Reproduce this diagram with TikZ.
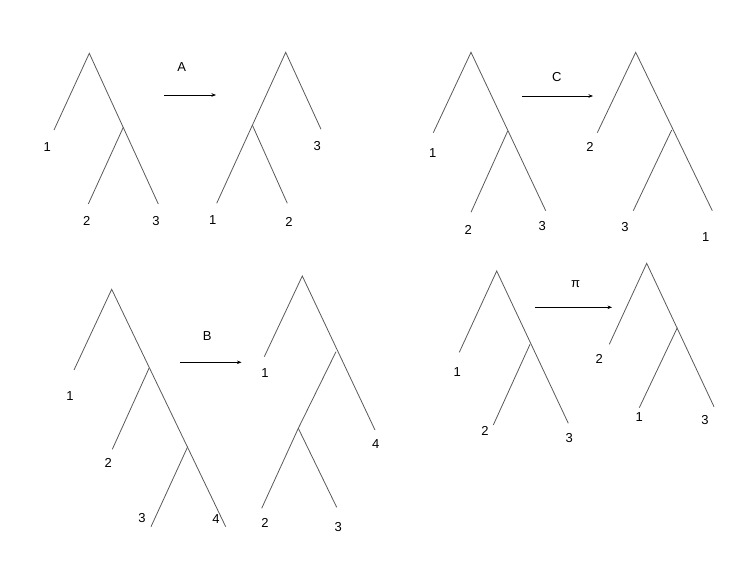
\documentclass[tikz,border=0pt]{standalone}
\usepackage{fontspec}
\setmainfont{Liberation Sans}
\usetikzlibrary{arrows.meta}
\tikzset{
  branch/.style={draw=black!65, line width=0.8pt},
  lab/.style={font=\fontsize{13}{15}\selectfont, inner sep=0pt, anchor=center},
  maparrow/.style={draw=black, line width=0.6pt, -{Stealth[length=4.5pt,width=3.5pt]}},
}
\begin{document}
\begin{tikzpicture}[x=1pt,y=-1pt]
\useasboundingbox (0,0) rectangle (736,584);
% ---------- A ----------
\coordinate (aLr) at (89.3,53.3);
\coordinate (aL1) at (54,130);
\coordinate (aLi) at (123.3,127.3);
\coordinate (aL2) at (88.3,204);
\coordinate (aL3) at (158.3,204);
\draw[branch] (aL1) -- (aLr) -- (aL3);
\draw[branch] (aL2) -- (aLi);
\node[lab] (aLt1) at (47.3,146.7) {1};
\node[lab] (aLt2) at (86.7,221) {2};
\node[lab] (aLt3) at (156,221) {3};
\coordinate (aAs) at (164,95);
\coordinate (aAe) at (216,95);
\draw[maparrow] (aAs) -- (aAe);
\node[lab] (aLab) at (181.7,66.7) {A};
\coordinate (aRr) at (285.7,52.3);
\coordinate (aR3) at (321,129.3);
\coordinate (aRi) at (252.3,125);
\coordinate (aR1) at (216.7,203.3);
\coordinate (aR2) at (287.3,203.3);
\draw[branch] (aR1) -- (aRr) -- (aR3);
\draw[branch] (aRi) -- (aR2);
\node[lab] (aRt3) at (317.3,146) {3};
\node[lab] (aRt1) at (212.7,220) {1};
\node[lab] (aRt2) at (289,221.7) {2};
% ---------- C ----------
\coordinate (cLr) at (471,52.3);
\coordinate (cL1) at (433.3,132.7);
\coordinate (cLi) at (507.7,131);
\coordinate (cL2) at (471,212.3);
\coordinate (cL3) at (545.7,210.7);
\draw[branch] (cL1) -- (cLr) -- (cL3);
\draw[branch] (cL2) -- (cLi);
\node[lab] (cLt1) at (432.7,153.3) {1};
\node[lab] (cLt2) at (468.3,230) {2};
\node[lab] (cLt3) at (542.3,226) {3};
\coordinate (cAs) at (522,96);
\coordinate (cAe) at (593,96);
\draw[maparrow] (cAs) -- (cAe);
\node[lab] (cLab) at (556.7,76.7) {C};
\coordinate (cRr) at (635.7,52.3);
\coordinate (cR2) at (597.3,132.7);
\coordinate (cRi) at (671.7,130);
\coordinate (cR3) at (633.3,210.7);
\coordinate (cR1) at (712.3,210.7);
\draw[branch] (cR2) -- (cRr) -- (cR1);
\draw[branch] (cR3) -- (cRi);
\node[lab] (cRt2) at (590,147.3) {2};
\node[lab] (cRt3) at (625,226.7) {3};
\node[lab] (cRt1) at (705.7,236.7) {1};
% ---------- B ----------
\coordinate (bLr) at (111.7,289.3);
\coordinate (bL1) at (74,370);
\coordinate (bLi) at (149,368.3);
\coordinate (bL2) at (112.3,449.3);
\coordinate (bLj) at (187.7,446.7);
\coordinate (bL3) at (151,526.7);
\coordinate (bL4) at (225.7,526.7);
\draw[branch] (bL1) -- (bLr) -- (bL4);
\draw[branch] (bL2) -- (bLi);
\draw[branch] (bL3) -- (bLj);
\node[lab] (bLt1) at (70,395.7) {1};
\node[lab] (bLt2) at (108.3,463.3) {2};
\node[lab] (bLt3) at (142,518) {3};
\node[lab] (bLt4) at (216,519) {4};
\coordinate (bAs) at (180,362.3);
\coordinate (bAe) at (241.5,362.3);
\draw[maparrow] (bAs) -- (bAe);
\node[lab] (bLab) at (207.3,335.7) {B};
\coordinate (bRr) at (302.3,276);
\coordinate (bR1) at (264.3,356.7);
\coordinate (bRi) at (336,351.7);
\coordinate (bR4) at (375,430);
\coordinate (bRj) at (298.3,428.3);
\coordinate (bR2) at (261.7,508.3);
\coordinate (bR3) at (336.7,507.3);
\draw[branch] (bR1) -- (bRr) -- (bR4);
\draw[branch] (bR2) -- (bRj) -- (bRi);
\draw[branch] (bRj) -- (bR3);
\node[lab] (bRt1) at (265,373.3) {1};
\node[lab] (bRt4) at (375.7,444) {4};
\node[lab] (bRt2) at (265,523.3) {2};
\node[lab] (bRt3) at (338.3,526.7) {3};
% ---------- pi ----------
\coordinate (pLr) at (496.7,271);
\coordinate (pL1) at (459.3,352.3);
\coordinate (pLi) at (530,344.3);
\coordinate (pL2) at (493.3,425);
\coordinate (pL3) at (568.3,423.3);
\draw[branch] (pL1) -- (pLr) -- (pL3);
\draw[branch] (pL2) -- (pLi);
\node[lab] (pLt1) at (457.3,372.3) {1};
\node[lab] (pLt2) at (485,431) {2};
\node[lab] (pLt3) at (569.3,437.7) {3};
\coordinate (pAs) at (535,307.3);
\coordinate (pAe) at (612,307.3);
\draw[maparrow] (pAs) -- (pAe);
\node[lab] (pLab) at (575.7,284.3) {π};
\coordinate (pRr) at (646.7,263.3);
\coordinate (pR2) at (609.3,344.3);
\coordinate (pRi) at (677.3,327.7);
\coordinate (pR1) at (639.3,407.7);
\coordinate (pR3) at (714,406.7);
\draw[branch] (pR2) -- (pRr) -- (pR3);
\draw[branch] (pR1) -- (pRi);
\node[lab] (pRt2) at (599.3,359) {2};
\node[lab] (pRt1) at (639.3,416.7) {1};
\node[lab] (pRt3) at (705,420) {3};
\end{tikzpicture}
\end{document}
